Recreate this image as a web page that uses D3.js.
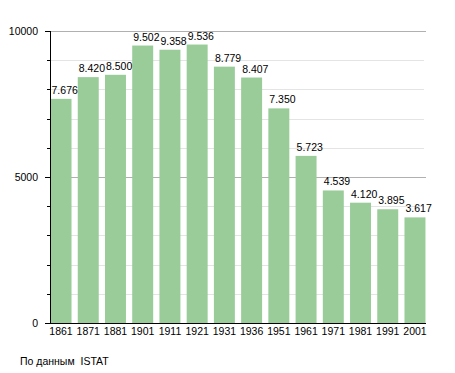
<!DOCTYPE html>
<html>
<head>
<meta charset="utf-8">
<script src="https://cdn.jsdelivr.net/npm/d3@7"></script>
<style>
  body { margin: 0; background: #fff; }
  text { font-family: "Liberation Sans", Arial, sans-serif; fill: #000; }
</style>
</head>
<body>
<svg id="chart" width="455" height="373"></svg>
<script>
const years = ['1861','1871','1881','1901','1911','1921','1931','1936','1951','1961','1971','1981','1991','2001'];
const population = [7676, 8420, 8500, 9502, 9358, 9536, 8779, 8407, 7350, 5723, 4539, 4120, 3895, 3617];
const majorTicks = [0, 5000, 10000];
const minorTicks = [1000, 2000, 3000, 4000, 6000, 7000, 8000, 9000];

const svg = d3.select('#chart');
const margin = { top: 31, right: 29, bottom: 50, left: 50 };
const width = +svg.attr('width');
const height = +svg.attr('height');
const innerWidth = width - margin.left - margin.right;
const innerHeight = height - margin.top - margin.bottom;
const fontSize = '10.5px';

const x = d3.scaleBand()
    .domain(years)
    .range([0, innerWidth])
    .paddingInner(0.23)
    .paddingOuter(0.02);

const y = d3.scaleLinear()
    .domain([0, 10000])
    .range([innerHeight, 0]);

const g = svg.append('g')
    .attr('transform', 'translate(' + margin.left + ',' + margin.top + ')');

// grid lines
g.selectAll('.minor')
    .data(minorTicks)
    .enter().append('line')
    .attr('x1', 0).attr('x2', innerWidth - 2)
    .attr('y1', d => Math.round(y(d)) + 0.5).attr('y2', d => Math.round(y(d)) + 0.5)
    .attr('stroke', '#e4e4e4');

g.selectAll('.major')
    .data(majorTicks.filter(d => d > 0))
    .enter().append('line')
    .attr('x1', 0).attr('x2', innerWidth)
    .attr('y1', d => Math.round(y(d)) + 0.5).attr('y2', d => Math.round(y(d)) + 0.5)
    .attr('stroke', '#b0b0b0');

// bars
g.selectAll('rect')
    .data(population)
    .enter().append('rect')
    .attr('x', (d, i) => x(years[i]))
    .attr('y', d => y(d))
    .attr('width', x.bandwidth())
    .attr('height', d => innerHeight - y(d))
    .attr('fill', '#99cc99');

// value labels
g.selectAll('.val')
    .data(population)
    .enter().append('text')
    .attr('x', (d, i) => x(years[i]) + 1)
    .attr('y', d => y(d) - 5)
    .style('font-size', fontSize)
    .text(d => d3.format(',')(d).replace(',', '.'));

// y axis
const yAxis = d3.axisLeft(y)
    .tickValues(majorTicks)
    .tickSize(5)
    .tickPadding(7)
    .tickFormat(d3.format('d'));
const yAxisG = g.append('g').call(yAxis);
yAxisG.select('.domain').remove();
yAxisG.selectAll('line').attr('stroke', '#000');
yAxisG.selectAll('text').style('font-size', fontSize).style('font-family', '"Liberation Sans", Arial, sans-serif');

g.selectAll('.ytick')
    .data(minorTicks)
    .enter().append('line')
    .attr('x1', -3).attr('x2', 0)
    .attr('y1', d => Math.round(y(d)) + 0.5).attr('y2', d => Math.round(y(d)) + 0.5)
    .attr('stroke', '#000');

g.append('line')
    .attr('x1', 0.5).attr('x2', 0.5)
    .attr('y1', 0).attr('y2', innerHeight)
    .attr('stroke', '#000');

// x axis
const xAxis = d3.axisBottom(x).tickSize(0).tickPadding(5);
const xAxisG = g.append('g')
    .attr('transform', 'translate(0,' + innerHeight + ')')
    .call(xAxis);
xAxisG.select('.domain').remove();
xAxisG.selectAll('text').style('font-size', fontSize).style('font-family', '"Liberation Sans", Arial, sans-serif');

g.append('line')
    .attr('x1', 0).attr('x2', innerWidth)
    .attr('y1', innerHeight + 0.5).attr('y2', innerHeight + 0.5)
    .attr('stroke', '#000');

// source note
svg.append('text')
    .attr('x', 20)
    .attr('y', 365)
    .style('font-size', fontSize)
    .style('white-space', 'pre')
    .text('По данным  ISTAT');
</script>
</body>
</html>
